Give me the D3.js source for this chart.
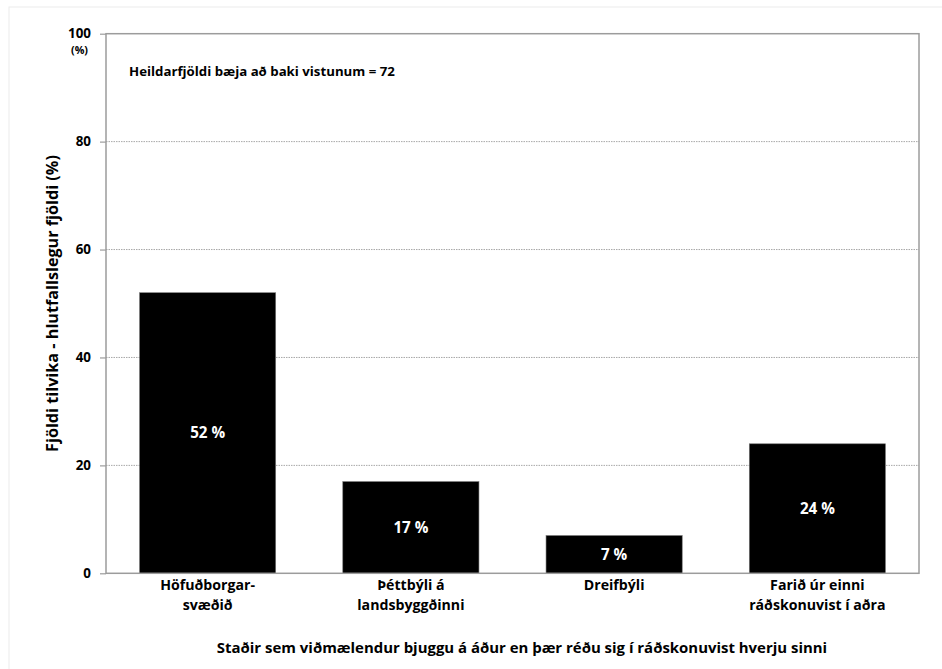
<!DOCTYPE html>
<html>
<head>
<meta charset="utf-8">
<script src="https://cdn.jsdelivr.net/npm/d3@7"></script>
<style>
  html, body { margin: 0; padding: 0; background: #fff; }
  svg text { font-family: "Open Sans", Lato, sans-serif; font-weight: bold; fill: #000; }
</style>
</head>
<body>
<svg id="chart" width="942" height="669"></svg>
<script>
const categories = [["Höfuðborgar-", "svæðið"], ["Þéttbýli á", "landsbyggðinni"], ["Dreifbýli"], ["Farið úr einni", "ráðskonuvist í aðra"]];
const values = [52, 17, 7, 24];
const yTicks = [0, 20, 40, 60, 80, 100];
const annotation = "Heildarfjöldi bæja að baki vistunum = 72";
const yTitle = "Fjöldi tilvika - hlutfallslegur fjöldi (%)";
const xTitle = "Staðir sem viðmælendur bjuggu á áður en þær réðu sig í ráðskonuvist hverju sinni";

const svg = d3.select("#chart");
const W = 942, H = 669;
const m = { left: 106, right: 23, top: 33.7, bottom: 95.7 };
const pw = W - m.left - m.right, ph = H - m.top - m.bottom;

function fitSize(sel, target, base) {
  sel.style("font-size", base + "px");
  const w = sel.node().getComputedTextLength();
  const s = base * target / w;
  sel.style("font-size", s + "px");
  return s;
}

// outer faint frame
svg.append("rect").attr("x", 9).attr("y", 7).attr("width", W).attr("height", H)
  .attr("fill", "none").attr("stroke", "#ececec").attr("stroke-width", 1);

const g = svg.append("g").attr("transform", `translate(${m.left},${m.top})`);

const x = d3.scaleBand().domain(d3.range(categories.length)).range([0, pw]).paddingInner(0.33).paddingOuter(0.165);
const y = d3.scaleLinear().domain([0, 100]).range([ph, 0]);

// gridlines
g.append("g").selectAll("line").data(yTicks.filter(t => t > 0 && t < 100)).join("line")
  .attr("x1", 0).attr("x2", pw).attr("y1", d => y(d)).attr("y2", d => y(d))
  .attr("stroke", "#a8a8a8").attr("stroke-width", 1).attr("stroke-dasharray", "1.5,1");

// bars
g.append("g").selectAll("rect").data(values).join("rect")
  .attr("x", (d, i) => x(i)).attr("width", x.bandwidth())
  .attr("y", d => y(d)).attr("height", d => ph - y(d))
  .attr("fill", "#000").attr("stroke", "#777").attr("stroke-width", 0.6);

// bar labels
const bl = g.append("g").selectAll("text").data(values).join("text")
  .attr("x", (d, i) => x(i) + x.bandwidth() / 2)
  .attr("y", d => (y(d) + ph) / 2)
  .attr("dy", "0.35em").attr("text-anchor", "middle")
  .style("fill", "#fff")
  .text(d => d + " %");
const blSize = fitSize(d3.select(bl.nodes()[0]), 35, 14);
bl.style("font-size", blSize + "px");

// plot frame
g.append("rect").attr("x", 0).attr("y", 0).attr("width", pw).attr("height", ph)
  .attr("fill", "none").attr("stroke", "#9c9c9c").attr("stroke-width", 1.5);

// y axis
const yAxis = g.append("g").call(d3.axisLeft(y).tickValues(yTicks).tickSize(6).tickPadding(9));
yAxis.select(".domain").remove();
yAxis.selectAll(".tick line").attr("stroke", "#9c9c9c").attr("stroke-width", 1.2);
const tt = yAxis.selectAll(".tick text").style("font-family", "'Open Sans', sans-serif").style("font-weight", "bold").attr("fill", "#000");
const tSize = fitSize(tt.filter(d => d === 100), 23, 13);
tt.style("font-size", tSize + "px");

// (%) under 100
const pct = g.append("text").attr("x", -26.5).attr("y", y(100) + 20.5).attr("text-anchor", "middle").text("(%)");
fitSize(pct, 17, 10);

// x category labels
const xl = g.append("g").selectAll("text").data(categories).join("text")
  .attr("text-anchor", "middle")
  .attr("transform", (d, i) => `translate(${x(i) + x.bandwidth() / 2},${ph + 17})`);
xl.selectAll("tspan").data(d => d).join("tspan")
  .attr("x", 0).attr("dy", (d, j) => j === 0 ? 0 : 20).text(d => d);
{
  const probe = g.append("text").text(categories[0][0]);
  const s = fitSize(probe, 95, 14);
  probe.remove();
  xl.style("font-size", s + "px");
}

// annotation
const ann = g.append("text").attr("x", 23).attr("y", 42.5).text(annotation);
fitSize(ann, 266, 13);

// y title
const yt = svg.append("text").attr("transform", `translate(57.5,${m.top + ph / 2}) rotate(-90)`)
  .attr("text-anchor", "middle").text(yTitle);
fitSize(yt, 297, 15);

// x title
const xt = svg.append("text").attr("x", 522).attr("y", 653).attr("text-anchor", "middle").text(xTitle);
fitSize(xt, 611, 15);
</script>
</body>
</html>
